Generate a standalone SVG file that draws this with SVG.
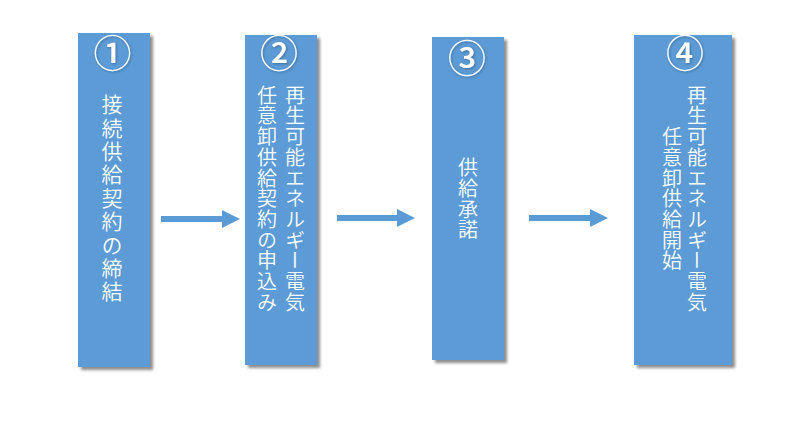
<svg xmlns="http://www.w3.org/2000/svg" width="793" height="433" viewBox="0 0 793 433">
<defs>
<filter id="sh" x="-20%" y="-20%" width="150%" height="150%">
<feDropShadow dx="3" dy="3" stdDeviation="1.5" flood-color="#000" flood-opacity="0.45"/>
</filter>
<filter id="tsh" x="-30%" y="-30%" width="160%" height="160%">
<feDropShadow dx="1" dy="1" stdDeviation="1" flood-color="#1f3f66" flood-opacity="0.5"/>
</filter>
</defs>
<style>
.box{fill:#5B9BD5;filter:url(#sh)}
.num{fill:#fff;font-family:"Noto Sans CJK JP",sans-serif;font-size:38px;font-weight:500;text-anchor:middle;dominant-baseline:central;filter:url(#tsh)}
.v{fill:#fff;font-family:"Noto Sans CJK JP",sans-serif;font-size:20px;font-weight:350;writing-mode:vertical-rl;text-anchor:middle;letter-spacing:0.7px}
.v1{font-size:21px;letter-spacing:2.4px}
.arr{fill:#5B9BD5}
</style>
<rect width="793" height="433" fill="#fff"/>
<g id="node1">
<rect class="box" x="78" y="33" width="72" height="334"/>
<text class="num" x="112.5" y="50">①</text>
<text class="v v1" x="112" y="199">接続供給契約の締結</text>
</g>
<g id="node2">
<rect class="box" x="245" y="35" width="72" height="330"/>
<text class="num" x="279" y="50">②</text>
<text class="v" x="295" y="199">再生可能エネルギー電気</text>
<text class="v" x="267" y="199">任意卸供給契約の申込み</text>
</g>
<g id="node3">
<rect class="box" x="432" y="37" width="72" height="323"/>
<text class="num" x="467" y="55">③</text>
<text class="v" x="468" y="199">供給承諾</text>
</g>
<g id="node4">
<rect class="box" x="634" y="35" width="98" height="330"/>
<text class="num" x="685" y="50">④</text>
<text class="v" x="697" y="199">再生可能エネルギー電気</text>
<text class="v" x="672" y="199">任意卸供給開始</text>
</g>
<g id="connectors">
<polygon class="arr" points="161,216 222,216 222,210 240,219 222,228 222,222 161,222"/>
<polygon class="arr" points="337,215 397,215 397,209 415,218 397,227 397,221 337,221"/>
<polygon class="arr" points="529,215 590,215 590,209 608,218 590,227 590,221 529,221"/>
</g>
</svg>
